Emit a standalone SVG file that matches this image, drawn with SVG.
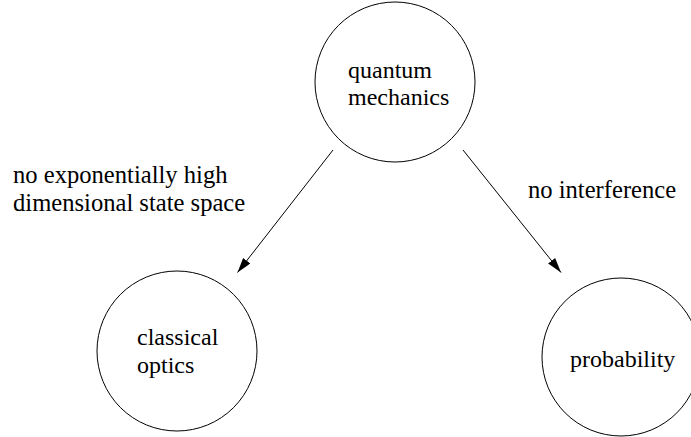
<svg xmlns="http://www.w3.org/2000/svg" width="691" height="437" viewBox="0 0 691 437">
<style>
.node{fill:none;stroke:#000;stroke-width:1}
.t{font-family:"Liberation Serif","Times New Roman",serif;font-size:24px;fill:#000}
.lbl{font-size:24.6px}
.edge{stroke:#000;stroke-width:1;fill:none}
</style>
<defs>
<marker id="ah" markerUnits="userSpaceOnUse" markerWidth="16" markerHeight="10" refX="15" refY="4.5" orient="auto">
<path d="M0,0 L15,4.5 L0,9 z" fill="#000"/>
</marker>
</defs>
<rect width="691" height="437" fill="#fff"/>
<g id="connectors">
<line class="edge" x1="333" y1="150" x2="237.5" y2="272.5" marker-end="url(#ah)"/>
<line class="edge" x1="463" y1="150" x2="561" y2="272.5" marker-end="url(#ah)"/>
<text class="t lbl" x="13" y="183">no exponentially high</text>
<text class="t lbl" x="13" y="211">dimensional state space</text>
<text class="t lbl" x="528" y="198">no interference</text>
</g>
<g id="quantum">
<circle class="node" cx="395" cy="82" r="80"/>
<text class="t" x="348" y="78">quantum</text>
<text class="t" x="348" y="105">mechanics</text>
</g>
<g id="classical">
<circle class="node" cx="177" cy="351" r="80"/>
<text class="t" x="137" y="345">classical</text>
<text class="t" x="137" y="373">optics</text>
</g>
<g id="probability">
<circle class="node" cx="621" cy="357" r="79"/>
<text class="t" x="570" y="367">probability</text>
</g>
</svg>
